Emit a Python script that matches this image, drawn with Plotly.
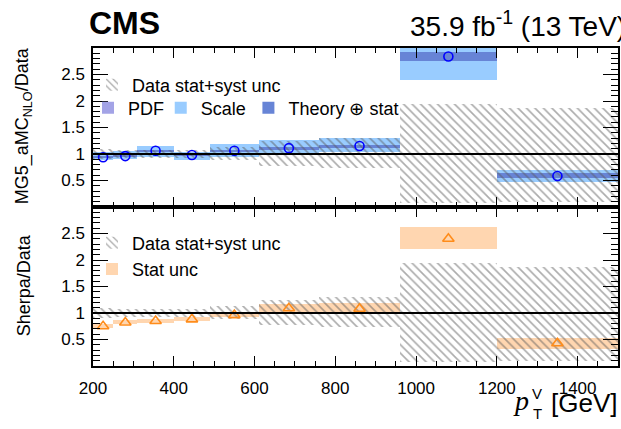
import plotly.graph_objects as go

# ---- data ----
bin_edges = [200, 250, 310, 400, 490, 610, 760, 960, 1200, 1500]

mg5_ratio = [0.94, 0.96, 1.06, 0.98, 1.06, 1.11, 1.15, 2.84, 0.585]
scale_lo = [0.88, 0.90, 0.95, 0.89, 0.95, 0.98, 1.03, 2.40, 0.48]
scale_hi = [1.03, 1.06, 1.16, 1.04, 1.18, 1.26, 1.31, 3.20, 0.70]
theory_lo = [0.92, 0.94, 1.04, 0.96, 1.04, 1.08, 1.11, 2.75, 0.54]
theory_hi = [0.96, 0.98, 1.08, 1.00, 1.08, 1.14, 1.17, 2.92, 0.64]

data_lo = [0.91, 0.92, 0.93, 0.92, 0.89, 0.77, 0.73, 0.08, 0.10]
data_hi = [1.09, 1.08, 1.07, 1.08, 1.13, 1.24, 1.30, 1.95, 1.87]

sherpa_ratio = [0.75, 0.82, 0.85, 0.88, 0.96, 1.09, 1.08, 2.40, 0.43]
stat_lo = [0.71, 0.79, 0.82, 0.85, 0.92, 1.01, 1.02, 2.20, 0.33]
stat_hi = [0.79, 0.86, 0.88, 0.92, 1.00, 1.17, 1.19, 2.62, 0.52]

x_ticks = [200, 400, 600, 800, 1000, 1200, 1400]

centers = [(a + b) / 2 for a, b in zip(bin_edges[:-1], bin_edges[1:])]
widths = [b - a for a, b in zip(bin_edges[:-1], bin_edges[1:])]

FONT = "Liberation Sans, Arial, Helvetica, sans-serif"
L, R, T, B = 93, 1, 48, 63
W, H = 621, 429
PW = W - L - R
PH = H - T - B


def px2x(px):
    return (px - L) / PW


def px2y(py):
    return (H - B - py) / PH


hatch = dict(shape="\\", fgcolor="#5a5a5a", bgcolor="rgba(0,0,0,0)",
             size=6, solidity=0.28, fillmode="overlay")


def band(lo, hi, color, name, xa, ya, legend, showlegend=True, rank=1000, pattern=None):
    marker = dict(color=color, line=dict(width=0))
    if pattern is not None:
        marker["pattern"] = pattern
    return go.Bar(x=centers, y=[h - l for l, h in zip(lo, hi)], base=lo, width=widths,
                  marker=marker, name=name, xaxis=xa, yaxis=ya, legend=legend,
                  showlegend=showlegend, legendrank=rank, hoverinfo="skip")


fig = go.Figure()

# top panel
fig.add_trace(go.Bar(x=[None], y=[None], marker=dict(color="#a3a3e6", line=dict(width=0)),
                     name="PDF", xaxis="x", yaxis="y", legend="legend2"))
fig.add_trace(band(scale_lo, scale_hi, "#99ccff", "Scale", "x", "y", "legend4"))
fig.add_trace(band(theory_lo, theory_hi, "#6784d6", "Theory \u2295 stat", "x", "y", "legend5"))
fig.add_trace(band(data_lo, data_hi, "rgba(0,0,0,0)", "Data stat+syst unc", "x", "y", "legend",
                   pattern=hatch))
fig.add_trace(go.Scatter(x=centers, y=mg5_ratio, mode="markers", xaxis="x", yaxis="y",
                         marker=dict(symbol="circle-open", size=9, color="#0000ff",
                                     line=dict(width=1.6, color="#0000ff")),
                         showlegend=False))

# bottom panel
fig.add_trace(band(stat_lo, stat_hi, "#ffd6b0", "Stat unc", "x2", "y2", "legend3", rank=2))
fig.add_trace(band(data_lo, data_hi, "rgba(0,0,0,0)", "Data stat+syst unc", "x2", "y2", "legend3",
                   rank=1, pattern=hatch))
fig.add_trace(go.Scatter(x=centers, y=sherpa_ratio, mode="markers", xaxis="x2", yaxis="y2",
                         marker=dict(symbol="triangle-up-open", size=10, color="#ff8c1a",
                                     line=dict(width=1.6, color="#ff8c1a")),
                         showlegend=False))

xcommon = dict(range=[200, 1500], tickmode="array", tickvals=x_ticks,
               ticks="inside", ticklen=10, tickwidth=1, tickcolor="black",
               showline=True, linecolor="black", linewidth=1.5, mirror="allticks",
               showgrid=False, zeroline=False,
               minor=dict(ticks="inside", ticklen=5, tick0=200, dtick=50, tickcolor="black", showgrid=False),
               tickfont=dict(family=FONT, size=17, color="black"))
ycommon = dict(range=[0, 3], tick0=0, dtick=0.5,
               ticks="inside", ticklen=15, tickwidth=1, tickcolor="black",
               showline=True, linecolor="black", linewidth=1.5, mirror="allticks",
               showgrid=False, zeroline=False,
               labelalias={"0": " ", "3": " "},
               minor=dict(ticks="inside", ticklen=7, tick0=0, dtick=0.1, tickcolor="black", showgrid=False),
               tickfont=dict(family=FONT, size=17, color="black"), ticklabelstandoff=3)

legend_common = dict(bgcolor="rgba(0,0,0,0)", font=dict(family=FONT, size=18, color="black"),
                     xanchor="left", yanchor="middle", traceorder="normal")

fig.update_layout(
    width=W, height=H,
    margin=dict(l=L, r=R, t=T, b=B),
    paper_bgcolor="white", plot_bgcolor="white",
    barmode="overlay", bargap=0,
    xaxis=dict(domain=[0, 1], anchor="y", showticklabels=False, **xcommon),
    yaxis=dict(domain=[0.5, 1], anchor="x", **ycommon),
    xaxis2=dict(domain=[0, 1], anchor="y2", showticklabels=True, ticklabelstandoff=6, **xcommon),
    yaxis2=dict(domain=[0, 0.5], anchor="x2", **ycommon),
    legend=dict(x=px2x(92), y=px2y(85), orientation="v", **legend_common),
    legend2=dict(x=px2x(88), y=px2y(108), orientation="v", **legend_common),
    legend4=dict(x=px2x(161), y=px2y(108), orientation="v", **legend_common),
    legend5=dict(x=px2x(249), y=px2y(108), orientation="v", **legend_common),
    legend3=dict(x=px2x(92), y=px2y(256), orientation="v", **legend_common),
    shapes=[
        dict(type="line", xref="x domain", yref="y", x0=0, x1=1, y0=1, y1=1,
             line=dict(color="black", width=2)),
        dict(type="line", xref="x2 domain", yref="y2", x0=0, x1=1, y0=1, y1=1,
             line=dict(color="black", width=2)),
    ],
    annotations=[
        dict(text="<b>CMS</b>", xref="paper", yref="paper", x=px2x(87), y=px2y(23),
             xanchor="left", yanchor="middle", showarrow=False,
             font=dict(family=FONT, size=32, color="black")),
        dict(text="35.9 fb<sup>-1</sup> (13 TeV)", xref="paper", yref="paper", x=px2x(409), y=px2y(24),
             xanchor="left", yanchor="middle", showarrow=False,
             font=dict(family=FONT, size=28, color="black")),
        dict(text="MG5_aMC<sub>NLO</sub>/Data", xref="paper", yref="paper", x=px2x(24), y=px2y(126),
             xanchor="center", yanchor="middle", textangle=-90, showarrow=False,
             font=dict(family=FONT, size=18, color="black")),
        dict(text="Sherpa/Data", xref="paper", yref="paper", x=px2x(24), y=px2y(285),
             xanchor="center", yanchor="middle", textangle=-90, showarrow=False,
             font=dict(family=FONT, size=18, color="black")),
        dict(text="[GeV]", xref="paper", yref="paper", x=px2x(621), y=px2y(403),
             xanchor="right", yanchor="middle", showarrow=False,
             font=dict(family=FONT, size=26, color="black")),
        dict(text="<i>p</i>", xref="paper", yref="paper", x=px2x(523), y=px2y(400),
             xanchor="center", yanchor="middle", showarrow=False,
             font=dict(family="Liberation Serif, DejaVu Serif, serif", size=28, color="black")),
        dict(text="V", xref="paper", yref="paper", x=px2x(539), y=px2y(393),
             xanchor="center", yanchor="middle", showarrow=False,
             font=dict(family=FONT, size=15, color="black")),
        dict(text="T", xref="paper", yref="paper", x=px2x(539), y=px2y(413),
             xanchor="center", yanchor="middle", showarrow=False,
             font=dict(family=FONT, size=15, color="black")),
    ],
)

fig.write_html("out.html")
